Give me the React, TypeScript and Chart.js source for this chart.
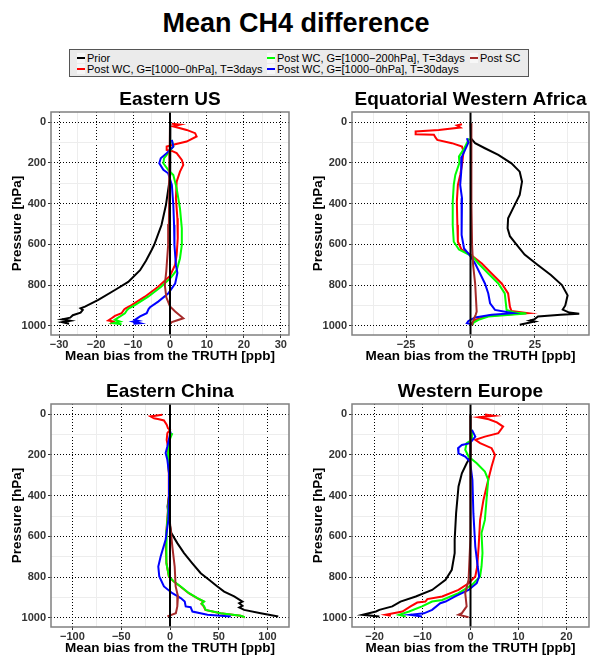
import React, { useEffect, useRef } from "react";
import { Chart, registerables } from "chart.js";

Chart.register(...registerables);

type Pt = [number, number]; // [pressure hPa, mean bias ppb]

const FONT = '"Liberation Sans", Arial, Helvetica, sans-serif';

const seriesNames = [
  "Prior",
  "Post WC, G=[1000\u22120hPa], T=3days",
  "Post WC, G=[1000\u2212200hPa], T=3days",
  "Post WC, G=[1000\u22120hPa], T=30days",
  "Post SC",
];
const seriesColors = ["#000000", "#FF0000", "#00FF00", "#0000FF", "#A52A2A"];

const pressureMajor = [0, 200, 400, 600, 800, 1000];
const pressureMinor = [100, 300, 500, 700, 900];

// ---------------- Eastern US ----------------
const usPrior: Pt[] = [[5, 0.1], [150, 0.1], [259, 0], [308, -0.3], [407, -1.1], [505, -2.3], [603, -4.3], [629, -5], [680, -6.5], [727, -8.1], [784, -11.3], [824, -14.9], [873, -19.4], [906, -23], [914, -24.2], [922, -23.6], [935, -24.2], [948, -26.3], [960, -27], [968, -29.2], [975, -27], [982, -29.2], [990, -27.3]];
const usWc3: Pt[] = [[8, 0.5], [12, 2.7], [20, 0.8], [38, 4.5], [54, 6.8], [70, 7.2], [95, 4.5], [108, 1.4], [120, -0.9], [136, -0.9], [141, 0.5], [152, 1.8], [185, 3.2], [210, 3.6], [243, 2.7], [292, 1.8], [374, 1.6], [472, 2.0], [570, 2.1], [652, 1.8], [700, 1.4], [755, 0], [808, -3.2], [857, -6.8], [898, -10.4], [914, -12], [920, -12.4], [938, -13.1], [951, -14.9], [963, -15.8], [974, -16.7], [979, -15.3], [990, -16.2]];
const usWc200: Pt[] = [[87, 0.5], [120, 0.9], [152, -0.5], [177, -1.6], [202, -1.8], [234, -0.5], [259, 0.9], [325, 1.8], [423, 2.7], [521, 3.2], [603, 3.2], [669, 2.7], [727, 1.8], [762, 0.3], [808, -2.4], [857, -5.9], [898, -9.5], [914, -11.1], [922, -11.6], [938, -12.2], [954, -13.5], [970, -14.9], [979, -13.5], [987, -15.3], [992, -13.1]];
const usWc30: Pt[] = [[87, 0.5], [120, 0.9], [152, -0.9], [177, -2.5], [202, -2.9], [234, -1.8], [251, -0.5], [308, 0.5], [407, 0.9], [505, 1.1], [603, 1.2], [702, 1.6], [740, 2.0], [792, 1.4], [841, -0.5], [881, -3.2], [909, -5.4], [918, -5.8], [938, -6.3], [954, -8.1], [971, -9.5], [975, -8.6], [979, -9.9], [987, -8.1], [990, -9.9]];
const usSc: Pt[] = [[5, 0], [150, -0.1], [350, -0.2], [500, -0.3], [603, -0.5], [730, -1.0], [800, -1.4], [860, -1.0], [905, 0], [930, 1.4], [963, 3.6], [974, 1.8], [982, 0.5], [995, -0.2]];

// ---------------- Equatorial Western Africa ----------------
const afPrior: Pt[] = [[5, 0], [79, 0.2], [103, 1.8], [128, 5.6], [161, 10.8], [202, 15.9], [243, 19.1], [292, 20], [357, 19.1], [423, 16.5], [472, 14.6], [521, 14.4], [560, 15.3], [600, 17.8], [650, 21], [700, 26], [750, 31.2], [800, 35.5], [850, 37.7], [900, 36.8], [920, 35.8], [935, 38.3], [941, 42.2], [946, 35], [954, 26.2], [967, 24.9], [974, 23], [979, 24.9], [995, 19.1]];
const afWc3: Pt[] = [[10, -3.3], [16, -5.3], [26, -4], [38, -12.3], [46, -21.3], [59, -21.3], [62, -14.2], [75, -13.6], [87, -12.9], [103, -7.2], [120, -3.3], [144, -2.7], [210, -3.3], [259, -4], [308, -4.9], [390, -5.3], [505, -5.1], [587, -4.9], [625, -3.5], [650, 0], [694, 4.4], [743, 8.2], [792, 12.1], [841, 14.6], [906, 15.3], [927, 15.9], [938, 22.3], [951, 6.9], [971, 1.8], [987, 0.5], [996, 0.8]];
const afWc200: Pt[] = [[80, -0.5], [130, -2.5], [169, -4.5], [200, -4.3], [259, -5.9], [308, -6.5], [390, -6.9], [505, -6.9], [587, -6.5], [625, -4.5], [648, -1], [660, 0.8], [694, 3.1], [743, 6.9], [792, 10.8], [841, 13.3], [922, 14], [935, 17.2], [940, 21.7], [954, 6.9], [971, 3.1], [984, 1.2], [995, 0.8]];
const afWc30: Pt[] = [[79, -1.4], [100, -0.8], [136, -2.1], [169, -3.3], [243, -3.6], [308, -4], [374, -3.3], [472, -3.6], [554, -3.3], [620, -2.5], [650, -0.5], [694, 1.8], [743, 3.7], [792, 5.6], [841, 6.9], [889, 7.6], [922, 9.5], [938, 16.5], [946, 8.2], [959, 1.8], [976, -0.8], [987, -1.4], [992, 0.5]];
const afSc: Pt[] = [[5, 0.2], [200, 0.3], [400, 0.4], [600, 0.6], [700, 1], [792, 1.8], [930, 2.4], [946, 2], [960, 1.5], [995, 0.5]];

// ---------------- Eastern China ----------------
const cnPrior: Pt[] = [[5, 0], [300, 0], [400, -1], [453, -2.5], [520, -1], [584, 1.4], [633, 7.5], [682, 14.4], [732, 22.9], [781, 31.5], [813, 40], [846, 48.6], [871, 55.5], [895, 65.8], [920, 74.3], [928, 70.9], [941, 74.3], [949, 71], [961, 76], [977, 93], [993, 111]];
const cnWc3: Pt[] = [[3, -7.9], [11, -19.9], [20, -16.4], [25, -11.3], [31, -6.2], [52, -3.4], [69, -2.1], [77, 0], [93, -2.7], [126, -3.4], [159, -2.1], [208, -2.3], [290, -1.2], [404, -1.2], [486, -2.3], [568, -3.6], [650, -4.3], [732, -3.6], [797, -1.2], [822, 3.8], [846, 10.6], [879, 19.2], [903, 27.8], [920, 34.6], [931, 32.2], [944, 34.6], [961, 36.2], [977, 51.5], [990, 72.2], [997, 76.5]];
const cnWc200: Pt[] = [[93, 2.4], [134, -1], [208, -2.1], [290, -1], [404, -1], [486, -2.1], [568, -3.4], [650, -4.1], [732, -3.4], [797, -1], [822, 4.1], [846, 11], [879, 19.5], [903, 28.1], [920, 35], [931, 32.5], [944, 35], [961, 36.6], [977, 52], [990, 72.6], [997, 76.7]];
const cnWc30: Pt[] = [[85, 0.7], [159, -2.7], [191, -4.5], [224, -2.7], [290, -1], [404, -1], [519, -1.7], [617, -4.5], [699, -9.6], [748, -12], [797, -11], [846, -6.2], [879, 2.4], [903, 11], [920, 15.1], [944, 16.1], [948, 21.2], [969, 23], [985, 38.4], [993, 62.3]];
const cnSc: Pt[] = [[5, 0], [300, 0], [535, 0], [650, 2.4], [748, 4.8], [846, 5.8], [895, 8.2], [944, 7.5], [977, 6], [993, -2.7]];

// ---------------- Western Europe ----------------
const euPrior: Pt[] = [[5, 0], [208, 0], [241, -0.8], [290, -1.8], [355, -2.5], [486, -3], [617, -3.3], [682, -3.3], [764, -3.9], [813, -5.2], [863, -8], [895, -11.4], [920, -14.6], [944, -16.3], [961, -19], [969, -19.7], [985, -22.5], [993, -19]];
const euWc3: Pt[] = [[2, 3], [8, 4.8], [15, 1.7], [25, 3.8], [40, 5.5], [61, 6.8], [93, 5.8], [110, 3], [126, 1], [142, 2], [167, 4.4], [200, 5.1], [257, 4.4], [322, 3.7], [421, 2.7], [519, 2], [650, 1.7], [748, 1.4], [797, 1], [830, -0.4], [863, -2.5], [895, -5.9], [908, -9], [920, -9.4], [925, -11.1], [944, -12.5], [969, -14.2], [985, -17.7], [990, -16.6]];
const euWc200: Pt[] = [[77, 0.3], [126, 0.3], [142, -0.8], [175, -1.1], [208, -0.4], [241, 1.3], [282, 3], [322, 3.7], [404, 3.4], [519, 3], [584, 2.3], [682, 2.5], [748, 2.3], [797, 2], [838, 0.3], [879, -2.5], [912, -5.9], [920, -8], [944, -10.1], [969, -12.8], [985, -14.9], [993, -13.5]];
const euWc30: Pt[] = [[77, 0.3], [110, 1], [142, -0.1], [151, -1.8], [167, -2.6], [192, -2.5], [208, -1.1], [232, -0.1], [322, 0.4], [486, 0.6], [650, 1], [748, 1.5], [797, 1.8], [830, 1.3], [863, -0.4], [895, -3.2], [920, -5.2], [928, -6.3], [961, -8], [978, -9.7], [985, -12.5], [993, -10.1]];
const euSc: Pt[] = [[5, 0], [600, 0], [813, -0.4], [879, -1.1], [944, -0.8], [977, -1.8], [985, -2.5], [997, -0.4]];

// x-axis ticks per panel
const usXMajor = [-30, -20, -10, 0, 10, 20, 30];
const usXMinor = [-25, -15, -5, 5, 15, 25];
const afXMajor = [-25, 0, 25];
const afXMinor = [-37.5, -12.5, 12.5, 37.5];
const cnXMajor = [-100, -50, 0, 50, 100];
const cnXMinor = [-75, -25, 25, 75];
const euXMajor = [-20, -10, 0, 10, 20];
const euXMinor = [-15, -5, 5, 15];

interface Panel {
  title: string;
  series: Pt[][];
  xLim: number;
  xMajor: number[];
  xMinor: number[];
  left: number;
  top: number;
  width: number;
  yAxisWidth: number;
  padRight: number;
  yTitlePad: number;
}

const panels: Panel[] = [
  { title: "Eastern US", series: [usPrior, usWc3, usWc200, usWc30, usSc], xLim: 32.2, xMajor: usXMajor, xMinor: usXMinor, left: 0, top: 86, width: 296, yAxisWidth: 51, padRight: 7, yTitlePad: 9 },
  { title: "Equatorial Western Africa", series: [afPrior, afWc3, afWc200, afWc30, afSc], xLim: 46, xMajor: afXMajor, xMinor: afXMinor, left: 300, top: 86, width: 292, yAxisWidth: 52, padRight: 3, yTitlePad: 10 },
  { title: "Eastern China", series: [cnPrior, cnWc3, cnWc200, cnWc30, cnSc], xLim: 122, xMajor: cnXMajor, xMinor: cnXMinor, left: 0, top: 378, width: 296, yAxisWidth: 51, padRight: 7, yTitlePad: 9 },
  { title: "Western Europe", series: [euPrior, euWc3, euWc200, euWc30, euSc], xLim: 24.7, xMajor: euXMajor, xMinor: euXMinor, left: 300, top: 378, width: 292, yAxisWidth: 52, padRight: 3, yTitlePad: 10 },
];

const PANEL_H = 280;

const fmtTick = (v: number) => (v < 0 ? "\u2212" + String(-v) : String(v));

const decorPlugin = {
  id: "decor",
  afterDatasetsDraw(chart: any) {
    const { ctx, chartArea } = chart;
    const x0 = chart.scales.x.getPixelForValue(0);
    ctx.save();
    ctx.strokeStyle = "#000";
    ctx.lineWidth = 2;
    ctx.beginPath();
    ctx.moveTo(x0, chartArea.top);
    ctx.lineTo(x0, chartArea.bottom);
    ctx.stroke();
    ctx.strokeStyle = "#808080";
    ctx.lineWidth = 1.5;
    ctx.strokeRect(chartArea.left, chartArea.top, chartArea.right - chartArea.left, chartArea.bottom - chartArea.top);
    ctx.restore();
  },
  afterDraw(chart: any, _args: any, opts: any) {
    const { ctx, chartArea } = chart;
    ctx.save();
    ctx.font = `bold 19px ${FONT}`;
    ctx.fillStyle = "#000";
    ctx.textAlign = "center";
    ctx.textBaseline = "middle";
    ctx.fillText(opts.text, (chartArea.left + chartArea.right) / 2, chartArea.top - 12);
    ctx.restore();
  },
};

function buildConfig(panel: Panel): any {
  const datasets = panel.series.map((s, i) => ({
    label: seriesNames[i],
    data: s.map(([p, v]) => ({ x: v, y: p })),
    borderColor: seriesColors[i],
    backgroundColor: seriesColors[i],
    borderWidth: 2,
    pointRadius: 0,
    showLine: true,
    tension: 0,
    order: 4 - i,
  }));
  const xTicks = [...panel.xMajor, ...panel.xMinor].sort((a, b) => a - b);
  const yTicks = [...pressureMajor, ...pressureMinor].sort((a, b) => a - b);
  const isMajorX = (c: any) => c.tick && panel.xMajor.includes(c.tick.value);
  const isMajorY = (c: any) => c.tick && pressureMajor.includes(c.tick.value);
  const tickFont = { family: FONT, size: 11, weight: "bold" };
  const titleFont = { family: FONT, size: 13.5, weight: "bold" };
  return {
    type: "scatter",
    data: { datasets },
    plugins: [decorPlugin],
    options: {
      animation: false,
      responsive: false,
      events: [],
      layout: { padding: { top: 26, right: panel.padRight, left: 0, bottom: 0 } },
      plugins: {
        legend: { display: false },
        tooltip: { enabled: false },
        title: { display: false },
        decor: { text: panel.title },
      },
      scales: {
        x: {
          type: "linear",
          min: -panel.xLim,
          max: panel.xLim,
          afterBuildTicks: (s: any) => {
            s.ticks = xTicks.map((v) => ({ value: v }));
          },
          afterFit: (s: any) => {
            s.height = 31;
          },
          ticks: {
            autoSkip: false,
            maxRotation: 0,
            padding: 0,
            color: "#333333",
            font: tickFont,
            callback: (v: number) => (panel.xMajor.includes(v) ? fmtTick(v) : ""),
          },
          grid: {
            color: (c: any) => (isMajorX(c) ? "#000000" : "#EDEDED"),
            lineWidth: 1,
            tickLength: 3,
            tickColor: (c: any) => (isMajorX(c) ? "#333333" : "rgba(0,0,0,0)"),
          },
          border: { display: false, dash: (c: any) => (isMajorX(c) ? [1, 2] : []) },
          title: { display: true, text: "Mean bias from the TRUTH [ppb]", color: "#000", font: titleFont, padding: { top: 0, bottom: 2 } },
        },
        y: {
          type: "linear",
          reverse: true,
          min: -50,
          max: 1045,
          afterBuildTicks: (s: any) => {
            s.ticks = yTicks.map((v) => ({ value: v }));
          },
          afterFit: (s: any) => {
            s.width = panel.yAxisWidth;
          },
          ticks: {
            autoSkip: false,
            padding: 2,
            color: "#333333",
            font: tickFont,
            callback: (v: number) => (pressureMajor.includes(v) ? String(v) : ""),
          },
          grid: {
            color: (c: any) => (isMajorY(c) ? "#000000" : "#EDEDED"),
            lineWidth: 1,
            tickLength: 3,
            tickColor: (c: any) => (isMajorY(c) ? "#333333" : "rgba(0,0,0,0)"),
          },
          border: { display: false, dash: (c: any) => (isMajorY(c) ? [1, 2] : []) },
          title: { display: true, text: "Pressure [hPa]", color: "#000", font: titleFont, padding: { top: panel.yTitlePad, bottom: 0 } },
        },
      },
    },
  };
}

function PanelChart({ panel }: { panel: Panel }) {
  const ref = useRef<HTMLCanvasElement | null>(null);
  useEffect(() => {
    if (!ref.current) return;
    const chart = new Chart(ref.current, buildConfig(panel));
    return () => chart.destroy();
  }, [panel]);
  return (
    <canvas
      ref={ref}
      width={panel.width}
      height={PANEL_H}
      style={{ position: "absolute", left: panel.left, top: panel.top, width: panel.width, height: PANEL_H }}
    />
  );
}

const legendLayout = [
  { idx: 0, x: 7, y: 8 },
  { idx: 1, x: 7, y: 19 },
  { idx: 2, x: 197, y: 8 },
  { idx: 3, x: 197, y: 19 },
  { idx: 4, x: 400, y: 8 },
];

function Legend() {
  return (
    <div
      style={{
        position: "absolute",
        left: 69,
        top: 49,
        width: 460,
        height: 28,
        boxSizing: "border-box",
        background: "#EBEBEB",
        border: "1px solid #555555",
        fontFamily: FONT,
        fontSize: 11,
        color: "#000",
      }}
    >
      {legendLayout.map((it) => (
        <div key={it.idx} style={{ position: "absolute", left: it.x, top: it.y - 6, height: 12, display: "flex", alignItems: "center", whiteSpace: "nowrap" }}>
          <div style={{ width: 8, height: 10, background: "#F7F7F7", position: "relative", marginRight: 2 }}>
            <div style={{ position: "absolute", left: 0, right: 0, top: 4, height: 2, background: seriesColors[it.idx] }} />
          </div>
          <span style={{ lineHeight: "12px" }}>{seriesNames[it.idx]}</span>
        </div>
      ))}
    </div>
  );
}

export default function App() {
  return (
    <div style={{ position: "fixed", left: 0, top: 0, width: 592, height: 656, overflow: "hidden", background: "#fff" }}>
      <div
        style={{
          position: "absolute",
          left: 0,
          top: 10,
          width: 592,
          textAlign: "center",
          fontFamily: FONT,
          fontWeight: "bold",
          fontSize: 27,
          lineHeight: "27px",
          color: "#000",
        }}
      >
        Mean CH4 difference
      </div>
      <Legend />
      {panels.map((p) => (
        <PanelChart key={p.title} panel={p} />
      ))}
    </div>
  );
}
